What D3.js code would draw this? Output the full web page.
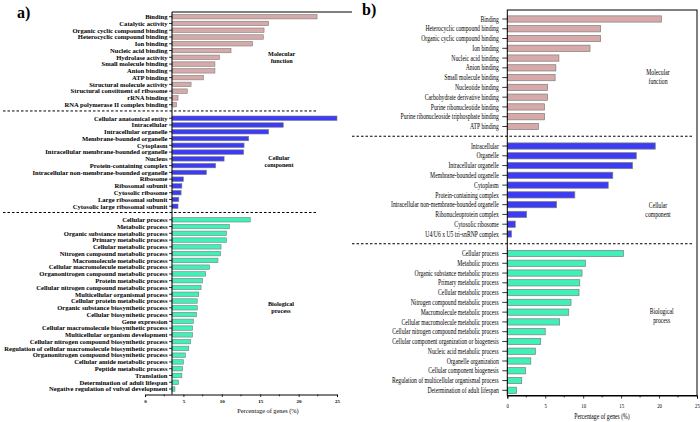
<!DOCTYPE html>
<html><head><meta charset="utf-8">
<script src="https://cdn.jsdelivr.net/npm/d3@7"></script>
<style>body{margin:0;background:#fff}svg{display:block}text{font-family:"Liberation Serif","Times New Roman",serif;fill:#000}</style>
</head><body><svg id="c" width="700" height="422"></svg>
<script>
// ---------- Panel a data ----------
const aMFLabels = ["Binding","Catalytic activity","Organic cyclic compound binding","Heterocyclic compound binding","Ion binding","Nucleic acid binding","Hydrolase activity","Small molecule binding","Anion binding","ATP binding","Structural molecule activity","Structural constituent of ribosome","rRNA binding","RNA polymerase II complex binding"];
const aMFValues = [22.4,16.1,15.5,15.4,14.0,11.2,9.7,9.1,9.1,7.6,6.0,5.5,4.3,4.1];
const aCCLabels = ["Cellular anatomical entity","Intracellular","Intracellular organelle","Membrane-bounded organelle","Cytoplasm","Intracellular membrane-bounded organelle","Nucleus","Protein-containing complex","Intracellular non-membrane-bounded organelle","Ribosome","Ribosomal subunit","Cytosolic ribosome","Large ribosomal subunit","Cytosolic large ribosomal subunit"];
const aCCValues = [25.0,18.0,16.1,13.5,12.9,12.85,10.3,9.2,8.0,5.0,4.8,4.7,4.4,4.3];
const aBPLabels = ["Cellular process","Metabolic process","Organic substance metabolic process","Primary metabolic process","Cellular metabolic process","Nitrogen compound metabolic process","Macromolecule metabolic process","Cellular macromolecule metabolic process","Organonitrogen compound metabolic process","Protein metabolic process","Cellular nitrogen compound metabolic process","Multicellular organismal process","Cellular protein metabolic process","Organic substance biosynthetic process","Cellular biosynthetic process","Gene expression","Cellular macromolecule biosynthetic process","Multicellular organism development","Cellular nitrogen compound biosynthetic process","Regulation of cellular macromolecule biosynthetic process","Organonitrogen compound biosynthetic process","Cellular amide metabolic process","Peptide metabolic process","Translation","Determination of adult lifespan","Negative regulation of vulval development"];
const aBPValues = [13.7,11.0,10.6,10.6,9.9,9.85,9.5,8.4,7.9,7.5,7.3,7.0,6.8,6.8,6.7,6.3,6.2,6.2,5.95,5.7,5.25,5.0,4.9,4.8,4.35,3.9];

// ---------- Panel b data ----------
const bMFLabels = ["Binding","Heterocyclic compound binding","Organic cyclic compound binding","Ion binding","Nucleic acid binding","Anion binding","Small molecule binding","Nucleotide binding","Carbohydrate derivative binding","Purine ribonucleotide binding","Purine ribonucleoside triphosphate binding","ATP binding"];
const bMFValues = [20.3,12.3,12.3,10.9,6.8,6.4,6.3,5.3,5.3,4.9,4.9,4.1];
const bCCLabels = ["Intracellular","Organelle","Intracellular organelle","Membrane-bounded organelle","Cytoplasm","Protein-containing complex","Intracellular non-membrane-bounded organelle","Ribonucleoprotein complex","Cytosolic ribosome","U4/U6 x U5 tri-snRNP complex"];
const bCCValues = [19.5,17.0,16.5,13.9,13.3,8.9,6.5,2.55,1.05,0.55];
const bBPLabels = ["Cellular process","Metabolic process","Organic substance metabolic process","Primary metabolic process","Cellular metabolic process","Nitrogen compound metabolic process","Macromolecule metabolic process","Cellular macromolecule metabolic process","Cellular nitrogen compound metabolic process","Cellular component organization or biogenesis","Nucleic acid metabolic process","Organelle organization","Cellular component biogenesis","Regulation of multicellular organismal process","Determination of adult lifespan"];
const bBPValues = [15.3,10.3,9.85,9.55,9.45,8.4,8.1,6.9,5.0,4.4,3.7,3.1,2.4,1.9,1.2];

const xTickValues = [0,5,10,15,20,25];
const xMinorTicks = [2.5,7.5,12.5,17.5,22.5];
const groupNames = [["Molecular","function"],["Cellular","component"],["Biological","process"]];
const xTitle = "Percentage of genes (%)";

const colors = {MF:"#d8a9a9", CC:"#3c3cf4", BP:"#41f0b8"};

function buildSlots(mfL,mfV,ccL,ccV,bpL,bpV){
  const s=[];
  mfL.forEach((l,i)=>s.push({key:"MF"+i,label:l,value:mfV[i],g:"MF"}));
  s.push({key:"sep1",sep:true});
  ccL.forEach((l,i)=>s.push({key:"CC"+i,label:l,value:ccV[i],g:"CC"}));
  s.push({key:"sep2",sep:true});
  bpL.forEach((l,i)=>s.push({key:"BP"+i,label:l,value:bpV[i],g:"BP"}));
  return s;
}

const svg = d3.select("#c");

// ================= Panel a =================
(function(){
  const slots = buildSlots(aMFLabels,aMFValues,aCCLabels,aCCValues,aBPLabels,aBPValues);
  const y = d3.scaleBand().domain(slots.map(d=>d.key)).range([13.3,392.4]).paddingInner(0.34).paddingOuter(0.17);
  const x = d3.scaleLinear().domain([0,25]).range([145,337]);
  const axisX = 172, top = 12, bottom = 394.5;
  const g = svg.append("g");
  const data = slots.filter(d=>!d.sep);
  g.selectAll("rect.bar").data(data).join("rect")
    .attr("x",axisX).attr("y",d=>y(d.key))
    .attr("width",d=>Math.max(0,x(d.value)-axisX)).attr("height",y.bandwidth())
    .attr("fill",d=>colors[d.g]).attr("stroke","#7d7d7d").attr("stroke-width",0.6);
  // separators
  slots.filter(d=>d.sep).forEach(d=>{
    const yy = y(d.key)+y.bandwidth()/2-0.5;
    g.append("line").attr("x1",3).attr("x2",318).attr("y1",yy).attr("y2",yy)
      .attr("stroke","#000").attr("stroke-width",1).attr("stroke-dasharray","2.5,2");
  });
  // left axis
  g.append("line").attr("x1",axisX).attr("x2",axisX).attr("y1",top).attr("y2",bottom).attr("stroke","#000").attr("stroke-width",1);
  g.append("line").attr("x1",axisX).attr("x2",352).attr("y1",top).attr("y2",top).attr("stroke","#000").attr("stroke-width",1);
  g.selectAll("line.lt").data(data).join("line").attr("class","lt")
    .attr("x1",axisX-3).attr("x2",axisX).attr("y1",d=>y(d.key)+y.bandwidth()/2).attr("y2",d=>y(d.key)+y.bandwidth()/2)
    .attr("stroke","#000").attr("stroke-width",0.8);
  g.selectAll("text.lab").data(data).join("text").attr("class","lab")
    .attr("x",axisX-4.5).attr("y",d=>y(d.key)+y.bandwidth()/2).attr("dy","0.35em")
    .attr("text-anchor","end").attr("font-weight","bold").attr("font-size","6.6px").text(d=>d.label);
  // bottom axis
  const ax = g.append("g").attr("transform",`translate(0,${bottom})`)
    .call(d3.axisBottom(x).tickValues(xTickValues).tickSize(2.5).tickPadding(2).tickFormat(d3.format("d")));
  ax.select(".domain").attr("stroke-width",1);
  ax.selectAll("text").attr("font-size","5px").attr("font-weight","bold").style("font-family","Liberation Serif");
  ax.selectAll(".tick line").attr("stroke-width",0.8);
  g.append("g").attr("transform",`translate(0,${bottom})`).selectAll("line").data(xMinorTicks).join("line")
    .attr("x1",d=>x(d)).attr("x2",d=>x(d)).attr("y1",0).attr("y2",1.8).attr("stroke","#000").attr("stroke-width",0.8);
  g.append("text").attr("x",268).attr("y",412.8).attr("text-anchor","middle").attr("font-size","6.3px").text(xTitle);
  // group names
  const gp = [[281.7,53.5],[279,158],[281,304]];
  groupNames.forEach((n,i)=>{
    n.forEach((t,j)=>g.append("text").attr("x",gp[i][0]).attr("y",gp[i][1]+j*7.3).attr("dy","0.35em")
      .attr("text-anchor","middle").attr("font-weight","bold").attr("font-size","6.2px").text(t));
  });
  svg.append("text").attr("x",17).attr("y",18).attr("font-size","16px").attr("font-weight","bold").text("a)");
})();

// ================= Panel b =================
(function(){
  const slots = buildSlots(bMFLabels,bMFValues,bCCLabels,bCCValues,bBPLabels,bBPValues);
  const y = d3.scaleBand().domain(slots.map(d=>d.key)).range([14.1,395.2]).paddingInner(0.36).paddingOuter(0.18);
  const x = d3.scaleLinear().domain([0,25]).range([507.3,697]);
  const top = 10, bottom = 395.5;
  const g = svg.append("g");
  const data = slots.filter(d=>!d.sep);
  g.selectAll("rect.bar").data(data).join("rect")
    .attr("x",x(0)).attr("y",d=>y(d.key))
    .attr("width",d=>x(d.value)-x(0)).attr("height",y.bandwidth())
    .attr("fill",d=>colors[d.g]).attr("stroke","#7d7d7d").attr("stroke-width",0.7);
  slots.filter(d=>d.sep).forEach(d=>{
    const yy = y(d.key)+y.bandwidth()/2;
    g.append("line").attr("x1",352).attr("x2",692).attr("y1",yy).attr("y2",yy)
      .attr("stroke","#000").attr("stroke-width",1).attr("stroke-dasharray","2.5,2");
  });
  g.append("rect").attr("x",x(0)).attr("y",top).attr("width",x(25)-x(0)).attr("height",bottom-top)
    .attr("fill","none").attr("stroke","#000").attr("stroke-width",1);
  g.selectAll("line.lt").data(data).join("line").attr("class","lt")
    .attr("x1",x(0)-5).attr("x2",x(0)).attr("y1",d=>y(d.key)+y.bandwidth()/2).attr("y2",d=>y(d.key)+y.bandwidth()/2)
    .attr("stroke","#000").attr("stroke-width",0.8);
  g.selectAll("text.lab").data(data).join("text").attr("class","lab")
    .attr("transform",d=>`translate(${x(0)-8.5},${y(d.key)+y.bandwidth()/2}) scale(0.76,1)`)
    .attr("dy","0.35em").attr("text-anchor","end").attr("font-size","7.5px").text(d=>d.label);
  const ax = g.append("g").attr("transform",`translate(0,${bottom})`)
    .call(d3.axisBottom(x).tickValues(xTickValues).tickSize(3).tickPadding(5).tickFormat(d3.format("d")));
  ax.select(".domain").attr("stroke-width",1);
  ax.selectAll(".tick line").attr("stroke-width",0.8);
  ax.selectAll("text").attr("font-size","6px").style("font-family","Liberation Serif")
    .attr("transform","scale(0.8,1)").attr("x",0);
  ax.selectAll(".tick text").each(function(){ });
  g.append("g").attr("transform",`translate(0,${bottom})`).selectAll("line").data(xMinorTicks).join("line")
    .attr("x1",d=>x(d)).attr("x2",d=>x(d)).attr("y1",0).attr("y2",2).attr("stroke","#000").attr("stroke-width",0.8);
  g.append("text").attr("transform","translate(602,418.5) scale(0.76,1)").attr("text-anchor","middle").attr("font-size","7.5px").text(xTitle);
  const gp = [[658,72],[658,205.3],[661.7,311]];
  groupNames.forEach((n,i)=>{
    n.forEach((t,j)=>g.append("text").attr("transform",`translate(${gp[i][0]},${gp[i][1]+j*9})  scale(0.76,1)`).attr("dy","0.35em")
      .attr("text-anchor","middle").attr("font-size","7.5px").text(t));
  });
  svg.append("text").attr("x",362).attr("y",15).attr("font-size","16px").attr("font-weight","bold").text("b)");
})();
</script></body></html>
